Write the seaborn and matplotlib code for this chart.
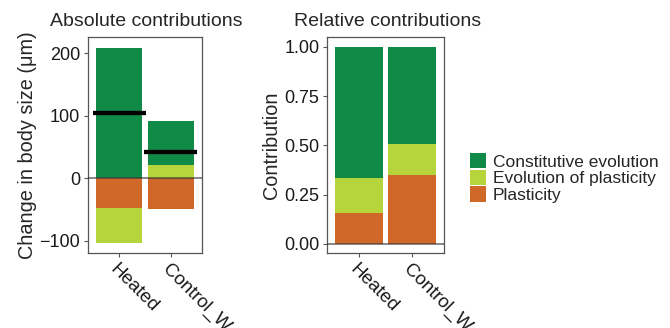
import numpy as np
import pandas as pd
import matplotlib
matplotlib.use("Agg")
import matplotlib.pyplot as plt
from matplotlib.patches import Patch
from matplotlib.ticker import FormatStrFormatter
import seaborn as sns

# Treatments and contribution components
categories = ["Heated", "Control_W"]
components = ["Constitutive evolution", "Evolution of plasticity", "Plasticity"]

# Absolute contributions to change in body size (µm)
abs_constitutive = [209, 70]
abs_evo_plasticity = [-56, 21]
abs_plasticity = [-48, -50]

# Relative contributions (share of total absolute change)
rel_constitutive = [0.666, 0.491]
rel_evo_plasticity = [0.177, 0.160]
rel_plasticity = [0.157, 0.349]

colors = {
    "Constitutive evolution": "#108A47",
    "Evolution of plasticity": "#B6D43C",
    "Plasticity": "#D0682A",
}

sns.set_style("white")
plt.rcParams["font.family"] = ["Liberation Sans", "DejaVu Sans"]
plt.rcParams["axes.unicode_minus"] = True

fig = plt.figure(figsize=(6.7, 3.28), dpi=100)
W, H = 670, 328


def px_axes(x0, y0, x1, y1):
    return fig.add_axes([x0 / W, 1 - y1 / H, (x1 - x0) / W, (y1 - y0) / H])


ax1 = px_axes(88, 37, 202, 253)
ax2 = px_axes(327, 37, 444, 253)


def stack_bottoms(series_list):
    """Stack in order (first nearest zero); positives up, negatives down."""
    pos = np.zeros(len(categories))
    neg = np.zeros(len(categories))
    bottoms = []
    for vals in series_list:
        v = np.asarray(vals, dtype=float)
        b = np.where(v >= 0, pos, neg)
        bottoms.append(b)
        pos = pos + np.where(v >= 0, v, 0)
        neg = neg + np.where(v < 0, v, 0)
    return bottoms


def draw_stack(ax, series_by_comp):
    order = ["Plasticity", "Evolution of plasticity", "Constitutive evolution"]
    vals = [series_by_comp[c] for c in order]
    bottoms = stack_bottoms(vals)
    for comp, v, b in zip(order, vals, bottoms):
        df = pd.DataFrame({"treatment": categories, "value": v})
        sns.barplot(data=df, x="treatment", y="value", order=categories,
                    color=colors[comp], saturation=1, width=0.9,
                    errorbar=None, bottom=b, linewidth=0, ax=ax)


draw_stack(ax1, {
    "Constitutive evolution": abs_constitutive,
    "Evolution of plasticity": abs_evo_plasticity,
    "Plasticity": abs_plasticity,
})
draw_stack(ax2, {
    "Constitutive evolution": rel_constitutive,
    "Evolution of plasticity": rel_evo_plasticity,
    "Plasticity": rel_plasticity,
})

# Net change in body size per treatment
net = np.array(abs_constitutive) + np.array(abs_evo_plasticity) + np.array(abs_plasticity)
pos = np.arange(len(categories))
ax1.hlines(net, pos - 0.51, pos + 0.51, color="black", lw=3.1, zorder=5)

for ax in (ax1, ax2):
    ax.axhline(0, color="#333333", lw=1.1, alpha=0.75, zorder=4)
    ax.set_xlim(-0.6, 1.6)
    ax.set_xlabel("")
    for s in ax.spines.values():
        s.set_visible(True)
        s.set_color("#555555")
        s.set_linewidth(0.9)
    ax.tick_params(axis="both", which="both", length=3, width=0.8,
                   color="#555555", labelcolor="#1a1a1a", pad=2.5,
                   left=True, bottom=True)
    ax.tick_params(axis="y", labelsize=13)
    ax.tick_params(axis="x", labelsize=13.5)
    for lab in ax.get_xticklabels():
        lab.set_rotation(-45)
        lab.set_ha("left")
        lab.set_va("top")
        lab.set_rotation_mode("anchor")

ax1.set_ylim(-120, 226)
ax1.set_yticks([-100, 0, 100, 200])
ax1.set_ylabel("Change in body size (μm)", fontsize=14.3, labelpad=2)

ax2.set_ylim(-0.047, 1.05)
ax2.set_yticks([0, 0.25, 0.5, 0.75, 1.0])
ax2.yaxis.set_major_formatter(FormatStrFormatter("%.2f"))
ax2.set_ylabel("Contribution", fontsize=14.3, labelpad=2)

fig.text(50 / W, 1 - 21 / H, "Absolute contributions", ha="left", va="center", fontsize=14)
fig.text(294 / W, 1 - 21 / H, "Relative contributions", ha="left", va="center", fontsize=14)

handles = [Patch(facecolor=colors[c], edgecolor="none", label=c) for c in components]
fig.legend(handles=handles, loc="center left", bbox_to_anchor=(470 / W, 1 - 178 / H),
           frameon=False, fontsize=12.5, handlelength=0.95, handleheight=1.0,
           labelspacing=0.0, handletextpad=0.35, borderpad=0, borderaxespad=0)

fig.savefig("out.png", dpi=100)
